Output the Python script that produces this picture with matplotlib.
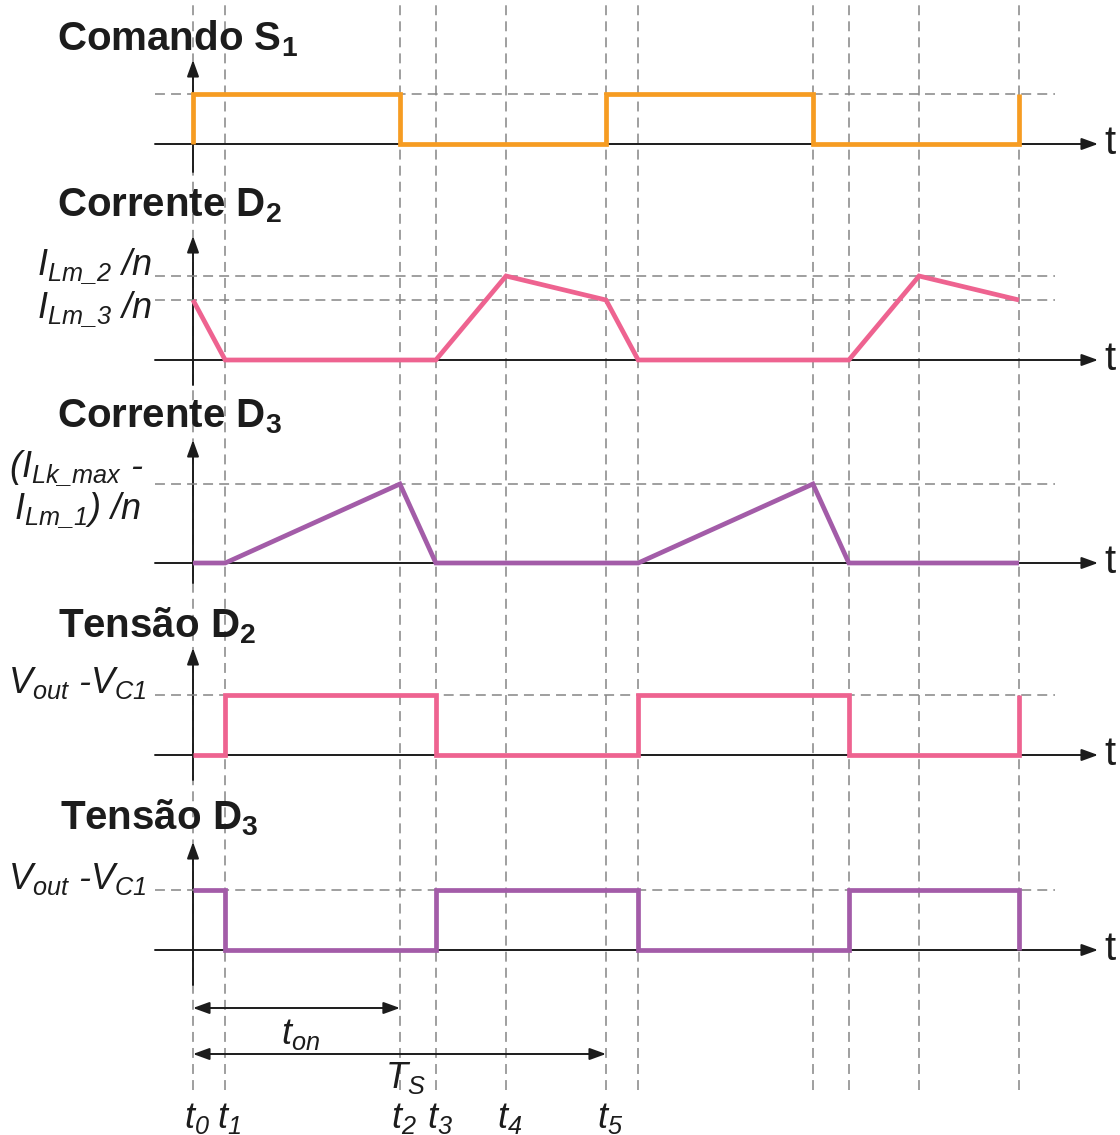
import numpy as np
import matplotlib.pyplot as plt

plt.rcParams['font.family'] = ['Liberation Sans', 'DejaVu Sans']
plt.rcParams['mathtext.fontset'] = 'custom'
# digits and underscores in the labels are italic too, so rm is italic here
plt.rcParams['mathtext.rm'] = 'Liberation Sans:italic'
plt.rcParams['mathtext.it'] = 'Liberation Sans:italic'
plt.rcParams['mathtext.bf'] = 'Liberation Sans:bold'

# switching instants, in units of Ts (t0..t5 of the first period, then the second)
t_marks = [0.0, 0.078, 0.501, 0.588, 0.758, 1.0,
           1.078, 1.501, 1.588, 1.758, 2.0]
t_labels = ['$t_0$', '$t_1$', '$t_2$', '$t_3$', '$t_4$', '$t_5$']

# gate command S1
s1_t = [0, 0, 0.501, 0.501, 1.0, 1.0, 1.501, 1.501, 2.0, 2.0]
s1_v = [0, 1, 1, 0, 0, 1, 1, 0, 0, 1]

# current in D2 (normalised to ILm_2/n)
id2_t = [0, 0.078, 0.588, 0.758, 1.0, 1.078, 1.588, 1.758, 2.0]
id2_v = [0.714, 0, 0, 1, 0.714, 0, 0, 1, 0.714]
id2_levels = [1.0, 0.714]

# current in D3 (normalised to (ILk_max - ILm_1)/n)
id3_t = [0, 0.078, 0.501, 0.588, 1.078, 1.501, 1.588, 2.0]
id3_v = [0, 0, 1, 0, 0, 1, 0, 0]

# voltages on D2 and D3 (normalised to Vout - VC1)
vd_t = [0, 0.078, 0.078, 0.588, 0.588, 1.078, 1.078, 1.588, 1.588, 2.0, 2.0]
vd2_v = [0, 0, 1, 1, 0, 0, 1, 1, 0, 0, 1]
vd3_v = [1, 1, 0, 0, 1, 1, 0, 0, 1, 1, 0]

ORANGE = '#F69C22'
PINK = '#EE6390'
PURPLE = '#A35CA8'
GREY = '#858585'
BLACK = '#1c1c1c'

W, H = 1120, 1135
X0, TSPX = 193, 413          # pixel of t0 and pixels per Ts
xlim = (-X0 / TSPX, (W - X0) / TSPX)
px = lambda p: (p - X0) / TSPX   # pixel column -> time units

fig = plt.figure(figsize=(W / 100, H / 100), dpi=100)

# overlay in time units (x) and pixel rows (y)
ov = fig.add_axes([0, 0, 1, 1])
ov.set_xlim(xlim)
ov.set_ylim(H, 0)
ov.axis('off')

# text layer in pixels
tx = fig.add_axes([0, 0, 1, 1])
tx.set_xlim(0, W)
tx.set_ylim(H, 0)
tx.axis('off')

dash = dict(color=GREY, lw=1.1, dashes=(6.5, 4))

for tm in t_marks:
    ov.axvline(tm, ymin=(H - 1090) / H, ymax=1, **dash)

# panel: baseline row, high-level row, axis arrow tip row, axis bottom row
panels = [
    dict(base=144, high=94, tip=60, bot=172, t=s1_t, v=s1_v, c=ORANGE, levels=[1.0]),
    dict(base=360, high=276, tip=236, bot=385, t=id2_t, v=id2_v, c=PINK, levels=id2_levels),
    dict(base=563, high=484, tip=440, bot=583, t=id3_t, v=id3_v, c=PURPLE, levels=[1.0]),
    dict(base=755, high=695, tip=648, bot=780, t=vd_t, v=vd2_v, c=PINK, levels=[1.0]),
    dict(base=950, high=890, tip=842, bot=985, t=vd_t, v=vd3_v, c=PURPLE, levels=[1.0]),
]

arrow = dict(arrowstyle='-|>,head_length=0.55,head_width=0.2', color=BLACK,
             lw=1.4, shrinkA=0, shrinkB=0, mutation_scale=18)

for p in panels:
    ax = fig.add_axes([0, 0, 1, 1])
    ax.axis('off')
    upp = 1.0 / (p['base'] - p['high'])
    ax.set_xlim(xlim)
    ax.set_ylim((p['base'] - H) * upp, p['base'] * upp)
    for lv in p['levels']:
        ax.plot([px(155), px(1055)], [lv, lv], **dash)
    # time axis and vertical axis
    ax.annotate('', xy=(px(1098), 0), xytext=(px(155), 0), arrowprops=arrow)
    ov.annotate('', xy=(0, p['tip']), xytext=(0, p['bot']), arrowprops=arrow)
    ax.plot(p['t'], p['v'], color=p['c'], lw=3.4, solid_joinstyle='miter',
            solid_capstyle='butt', zorder=5)
    tx.text(1104, p['base'] - 1, 't', fontsize=29, ha='left', va='center', color=BLACK)

# titles
titles = ['Comando S$_\\mathbf{1}$', 'Corrente D$_\\mathbf{2}$', 'Corrente D$_\\mathbf{3}$',
          'Tensão D$_\\mathbf{2}$', 'Tensão D$_\\mathbf{3}$']
title_y = [50, 216, 427, 637, 829]
title_x = [57, 57, 57, 58, 60]
for s, x, y in zip(titles, title_x, title_y):
    tx.text(x, y, s, fontsize=29, fontweight='bold', ha='left', va='baseline', color=BLACK)

# level labels
lab = dict(fontsize=26, style='italic', ha='right', va='baseline', color=BLACK)
tx.text(152, 275, '$I_{Lm\\_2}$ /n', **lab)
tx.text(152, 318, '$I_{Lm\\_3}$ /n', **lab)
tx.text(144, 477, '($I_{Lk\\_max}$ -', **lab)
tx.text(141, 519, '$I_{Lm\\_1}$) /n', **lab)
tx.text(147, 693, '$V_{out}$ -$V_{C1}$', **lab)
tx.text(147, 889, '$V_{out}$ -$V_{C1}$', **lab)

# ton and Ts spans
span = dict(arrowstyle='<|-|>,head_length=0.55,head_width=0.2', color=BLACK,
            lw=1.4, shrinkA=0, shrinkB=0, mutation_scale=18)
ov.annotate('', xy=(t_marks[0], 1008), xytext=(t_marks[2], 1008), arrowprops=span)
ov.annotate('', xy=(t_marks[0], 1054), xytext=(t_marks[5], 1054), arrowprops=span)
tx.text(300, 1035, '$t_{on}$', fontsize=26, ha='center', va='center', color=BLACK)
tx.text(405, 1078, '$T_S$', fontsize=26, ha='center', va='center', color=BLACK)

for tm, s in zip(t_marks[:6], t_labels):
    ov.text(tm + 4 / TSPX, 1118, s, fontsize=26, ha='center', va='center', color=BLACK)

fig.savefig('out.png', dpi=100)
